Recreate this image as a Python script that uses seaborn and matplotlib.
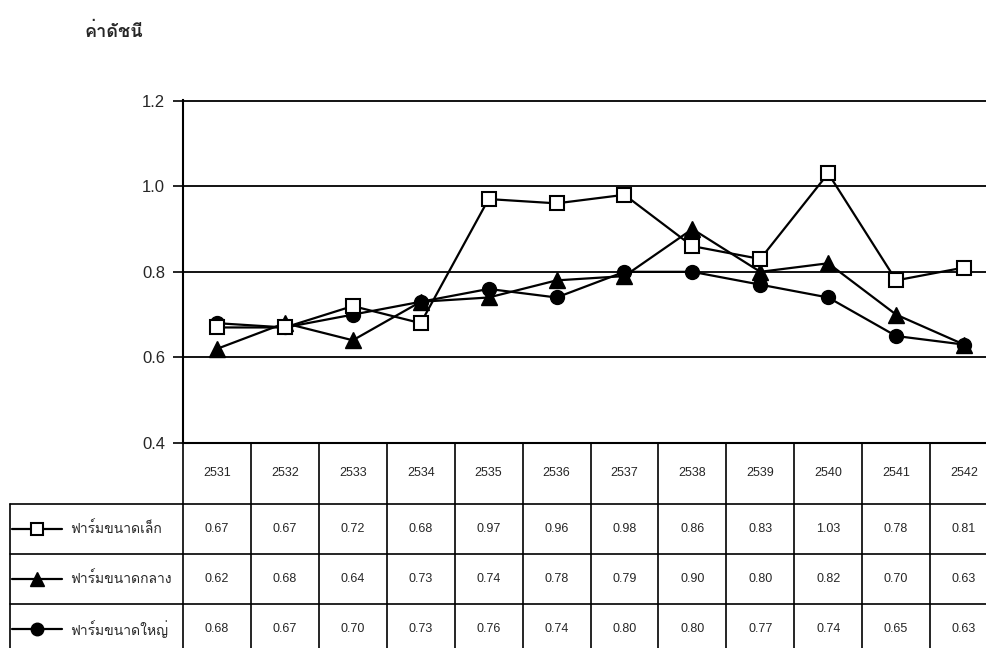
import numpy as np
import matplotlib
matplotlib.use("Agg")
import matplotlib.pyplot as plt
import seaborn as sns

years = ["2531", "2532", "2533", "2534", "2535", "2536",
         "2537", "2538", "2539", "2540", "2541", "2542"]
farm_names = ["ฟาร์มขนาดเล็ก", "ฟาร์มขนาดกลาง", "ฟาร์มขนาดใหญ่"]
small = [0.67, 0.67, 0.72, 0.68, 0.97, 0.96, 0.98, 0.86, 0.83, 1.03, 0.78, 0.81]
medium = [0.62, 0.68, 0.64, 0.73, 0.74, 0.78, 0.79, 0.90, 0.80, 0.82, 0.70, 0.63]
large = [0.68, 0.67, 0.70, 0.73, 0.76, 0.74, 0.80, 0.80, 0.77, 0.74, 0.65, 0.63]
y_ticks = [0.4, 0.6, 0.8, 1.0, 1.2]
y_title = "ค่าดัชนี"

sns.set_style("white")
thai_family = ["Loma", "DejaVu Sans"]
plt.rcParams["font.family"] = ["Liberation Sans", "Loma", "DejaVu Sans"]

W, H = 986, 648
fig = plt.figure(figsize=(W / 100, H / 100), dpi=100)

# pixel layout
x0, x1 = 183, 998
y_top, y_bot = 100, 443
col_w = (x1 - x0) / 12


def px2x(px):
    return (px - x0) / col_w - 0.5


ax = fig.add_axes([x0 / W, (H - y_bot) / H, (x1 - x0) / W, (y_bot - y_top) / H])
pos = np.arange(len(years))
series = [small, medium, large]
styles = [dict(marker="s", mfc="white", ms=10, mew=1.5),
          dict(marker="^", mfc="black", ms=11, mew=1.0),
          dict(marker="o", mfc="black", ms=10, mew=1.0)]
for vals, st, z in zip(series, styles, [4, 3, 2]):
    sns.lineplot(x=pos, y=vals, ax=ax, color="black", lw=1.6, mec="black",
                 zorder=z, **st)

ax.set_xlim(-0.5, 11.5)
ax.set_ylim(0.4, 1.2015)
ax.set_yticks(y_ticks)
ax.set_yticklabels([f"{v:.1f}" for v in y_ticks], fontsize=12)
ax.set_xticks([])
ax.grid(axis="y", color="black", lw=1.3)
ax.tick_params(axis="y", direction="out", length=7, width=1.2, color="black", pad=6, left=True)
for s in ["top", "right"]:
    ax.spines[s].set_visible(False)
for s in ["left", "bottom"]:
    ax.spines[s].set_color("black")
    ax.spines[s].set_linewidth(1.5)
ax.set_xlabel("")
ax.set_ylabel("")

fig.text(85 / W, 1 - 32 / H, y_title, fontsize=13, fontweight="bold",
         family=thai_family, va="center", ha="left")

# data table below the plot
row_h = [61, 50, 50, 50]
tab_h = sum(row_h)
tab = fig.add_axes([x0 / W, (H - y_bot - tab_h) / H, (x1 - x0) / W, tab_h / H])
tab.set_xlim(-0.5, 11.5)
tab.set_ylim(tab_h, 0)
tab.axis("off")
edges = np.cumsum([0] + row_h)
lx = px2x(10)
for k in range(13):
    tab.plot([k - 0.5, k - 0.5], [0, tab_h], color="black", lw=1.2, clip_on=False)
tab.plot([lx, lx], [edges[1], tab_h], color="black", lw=1.2, clip_on=False)
for e in edges[1:]:
    tab.plot([lx, 11.5], [e, e], color="black", lw=1.2, clip_on=False)

for i, yr in enumerate(years):
    tab.text(i, row_h[0] / 2, yr, ha="center", va="center", fontsize=9)

for r, (vals, st, name) in enumerate(zip(series, styles, farm_names)):
    yc = (edges[r + 1] + edges[r + 2]) / 2
    for i, v in enumerate(vals):
        tab.text(i, yc, f"{v:.2f}", ha="center", va="center", fontsize=9)
    tab.plot([px2x(12), px2x(62)], [yc, yc], color="black", lw=1.6, clip_on=False)
    tab.plot([px2x(37)], [yc], color="black", mec="black", clip_on=False,
             **{**st, "ms": st["ms"] * 0.9})
    tab.text(px2x(70), yc, name, ha="left", va="center", fontsize=10,
             family=thai_family)

fig.savefig("out.png", dpi=100)
